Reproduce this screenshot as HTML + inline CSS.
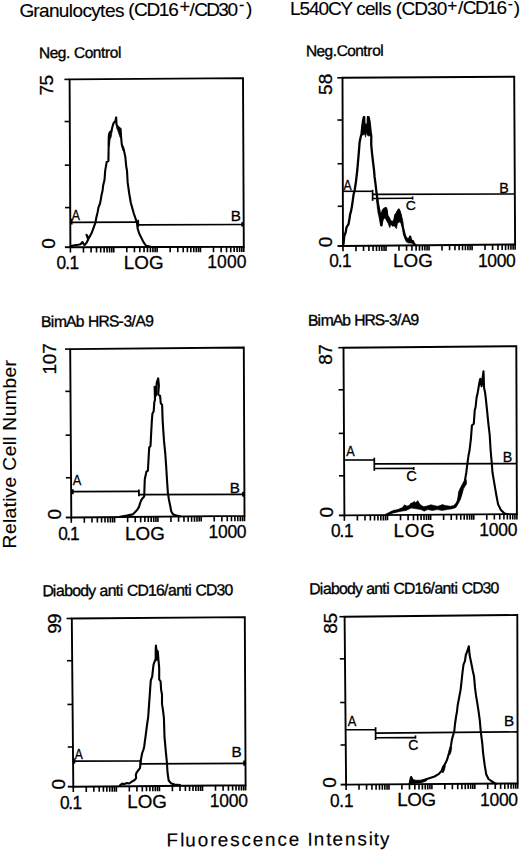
<!DOCTYPE html>
<html><head><meta charset="utf-8"><style>
html,body{margin:0;padding:0;background:#fff;}
svg{display:block;}
text{font-family:"Liberation Sans", sans-serif;fill:#000;stroke:#000;stroke-width:0.15px;}
</style></head><body>
<svg width="520" height="853" viewBox="0 0 520 853">
<rect width="520" height="853" fill="#fff"/>
<text ><tspan x="19.44 33.21 39.11 48.95 58.8 68.64 72.58 82.42 91.27 100.12 105.04 114.89" y="17.1" font-size="19">Granulocytes</tspan></text>
<text ><tspan x="128.22 133.95 146.38 158.8 168.37" y="16.32" font-size="19">(CD16</tspan></text>
<text x="179.52" y="12.77" font-size="18.11">+</text>
<text ><tspan x="189.6 194.22 206.22 218.23 227.48" y="15.88" font-size="19">/CD30</tspan></text>
<text x="238.89" y="9.64" font-size="15.97">-</text>
<text ><tspan x="246.09" y="15.47" font-size="19">)</tspan></text>
<text ><tspan x="289.94 299.44 308.93 318.42 327.92 340.24 351.63 356.37 364.91 374.4 378.19 381.99" y="15.4" font-size="19">L540CY cells</tspan></text>
<text ><tspan x="395.72 401.57 414.24 426.91 436.68" y="14.64" font-size="19">(CD30</tspan></text>
<text x="447.26" y="11.15" font-size="17.29">+</text>
<text ><tspan x="458.1 462.78 474.94 487.1 496.47" y="14.2" font-size="19">/CD16</tspan></text>
<text x="507.81" y="8.93" font-size="15.56">-</text>
<text ><tspan x="513.69" y="13.8" font-size="19">)</tspan></text>
<g transform="rotate(-0.4 40.4 58.2)"><text style="stroke-width:0.35px"><tspan x="39.13 49.69 57.83 65.96 70.03 74.09 84.65 92.79 100.92 104.99 109.86 117.99" y="58.2" font-size="15.5">Neg. Control</tspan></text></g>
<g transform="rotate(-0.4 307.3 56.3)"><text style="stroke-width:0.35px"><tspan x="306.03 316.52 324.59 332.67 336.7 347.19 355.27 363.35 367.38 372.22 380.29" y="56.3" font-size="15.5">Neg.Control</tspan></text></g>
<g transform="rotate(-0.4 42.3 327)"><text style="stroke-width:0.35px"><tspan x="41.01 50.72 53.95 66.07 75.77 83.87 87.91 98.42 108.92 118.63 123.47 131.56 135.61 145.31" y="327" font-size="15.7">BimAb HRS-3/A9</tspan></text></g>
<g transform="rotate(-0.4 309.4 325.7)"><text style="stroke-width:0.35px"><tspan x="308.11 317.64 320.81 332.71 342.24 350.19 354.15 364.47 374.79 384.31 389.07 397.02 400.98 410.51" y="325.7" font-size="15.7">BimAb HRS-3/A9</tspan></text></g>
<g transform="rotate(-0.3 43.7 596.2)"><text style="stroke-width:0.35px"><tspan x="42.4 52.87 56.1 64.16 72.22 80.28 88.35 95.6 99.62 107.69 115.75 119.78 123 127.03 137.5 147.97 156.03 164.1 168.12 176.19 184.25 188.28 191.5 195.53 206 216.47 224.53" y="596.2" font-size="15.8">Diabody anti CD16/anti CD30</tspan></text></g>
<g transform="rotate(-0.3 310.6 594.2)"><text style="stroke-width:0.35px"><tspan x="309.3 319.73 322.93 330.96 338.99 347.02 355.05 362.26 366.27 374.3 382.33 386.34 389.55 393.56 403.98 414.4 422.43 430.46 434.47 442.5 450.53 454.54 457.74 461.75 472.18 482.6 490.63" y="594.2" font-size="15.8">Diabody anti CD16/anti CD30</tspan></text></g>
<text transform="translate(15.7 546.9) rotate(-90)" ><tspan x="-1.57 12.85 23.96 28.4 39.51 45.06 49.5 59.49 70.6 76.15 90.58 101.69 106.13 110.57 116.12 130.55 141.66 158.3 169.41 180.52" y="0" font-size="19.2">Relative Cell Number</tspan></text>
<g transform="rotate(-0.35 168.1 846.5)"><text ><tspan x="166.55 180.27 185.26 197.74 210.23 217.71 230.2 241.43 252.65 265.14 277.63 288.86 301.35 307.59 313.83 326.32 332.55 345.04 357.53 368.76 373.75 379.99" y="846.5" font-size="18.9">Fluorescence Intensity</tspan></text></g>
<polygon points="69.6,79.4 243,78.1 243.8,246.8 70.4,247.2" fill="none" stroke="#000" stroke-width="1.9" stroke-linejoin="miter"/>
<line x1="64.9" y1="247.2" x2="70.4" y2="247.2" stroke="#000" stroke-width="1.9"/>
<line x1="64.4" y1="79.4" x2="69.6" y2="79.4" stroke="#000" stroke-width="1.6"/>
<line x1="64.6" y1="121.52" x2="69.8" y2="121.52" stroke="#000" stroke-width="1.6"/>
<line x1="64.81" y1="165.15" x2="70.01" y2="165.15" stroke="#000" stroke-width="1.6"/>
<line x1="65.01" y1="207.6" x2="70.21" y2="207.6" stroke="#000" stroke-width="1.6"/>
<path d="M70.4 247.2v5.3M83.45 247.17v5.3M91.08 247.15v5.3M96.5 247.14v5.3M100.7 247.13v5.3M104.13 247.12v5.3M107.04 247.12v5.3M109.55 247.11v5.3M111.77 247.1v5.3M113.75 247.1v5.3M126.8 247.07v5.3M134.43 247.05v5.3M139.85 247.04v5.3M144.05 247.03v5.3M147.48 247.02v5.3M150.39 247.02v5.3M152.9 247.01v5.3M155.12 247v5.3M157.1 247v5.3M170.15 246.97v5.3M177.78 246.95v5.3M183.2 246.94v5.3M187.4 246.93v5.3M190.83 246.92v5.3M193.74 246.92v5.3M196.25 246.91v5.3M198.47 246.9v5.3M200.45 246.9v5.3M213.5 246.87v5.3M221.13 246.85v5.3M226.55 246.84v5.3M230.75 246.83v5.3M234.18 246.82v5.3M237.09 246.82v5.3M239.6 246.81v5.3M241.82 246.8v5.3M243.8 246.8v5.3" stroke="#000" stroke-width="1.6" fill="none"/>
<text transform="translate(53.1 94.6) rotate(-90)" style="stroke-width:0.3px"><tspan x="-0.97 9.03" y="0" font-size="19">75</tspan></text>
<text transform="translate(54.8 248.1) rotate(-90)" style="stroke-width:0.3px"><tspan x="-0.74" y="0" font-size="19">0</tspan></text>
<text transform="scale(0.92 1)" style="stroke-width:0.3px"><tspan x="61.33 70.83 75.57" y="268.9" font-size="18.8">0.1</tspan></text>
<text style="stroke-width:0.3px"><tspan x="123.66 134.17 148.88" y="268.9" font-size="18.8">LOG</tspan></text>
<text transform="scale(0.93 1)" style="stroke-width:0.3px"><tspan x="222.87 233.44 244.01 254.58" y="268.4" font-size="18.8">1000</tspan></text>
<polygon points="342.5,77.8 514.2,76.7 515.1,244.5 343,246" fill="none" stroke="#000" stroke-width="1.9" stroke-linejoin="miter"/>
<line x1="337.5" y1="246" x2="343" y2="246" stroke="#000" stroke-width="1.9"/>
<line x1="337.3" y1="77.8" x2="342.5" y2="77.8" stroke="#000" stroke-width="1.6"/>
<line x1="337.43" y1="120.02" x2="342.63" y2="120.02" stroke="#000" stroke-width="1.6"/>
<line x1="337.56" y1="163.75" x2="342.76" y2="163.75" stroke="#000" stroke-width="1.6"/>
<line x1="337.68" y1="206.3" x2="342.88" y2="206.3" stroke="#000" stroke-width="1.6"/>
<path d="M343 246v5.3M355.95 245.89v5.3M363.53 245.82v5.3M368.9 245.77v5.3M373.07 245.74v5.3M376.48 245.71v5.3M379.36 245.68v5.3M381.86 245.66v5.3M384.06 245.64v5.3M386.02 245.62v5.3M398.98 245.51v5.3M406.55 245.45v5.3M411.93 245.4v5.3M416.1 245.36v5.3M419.5 245.33v5.3M422.39 245.31v5.3M424.88 245.29v5.3M427.08 245.27v5.3M429.05 245.25v5.3M442 245.14v5.3M449.58 245.07v5.3M454.95 245.02v5.3M459.12 244.99v5.3M462.53 244.96v5.3M465.41 244.93v5.3M467.91 244.91v5.3M470.11 244.89v5.3M472.08 244.88v5.3M485.03 244.76v5.3M492.6 244.7v5.3M497.98 244.65v5.3M502.15 244.61v5.3M505.55 244.58v5.3M508.44 244.56v5.3M510.93 244.54v5.3M513.13 244.52v5.3M515.1 244.5v5.3" stroke="#000" stroke-width="1.6" fill="none"/>
<text transform="translate(331.5 94.2) rotate(-90)" style="stroke-width:0.3px"><tspan x="-0.76 9.86" y="0" font-size="19">58</tspan></text>
<text transform="translate(332.3 246.6) rotate(-90)" style="stroke-width:0.3px"><tspan x="-0.74" y="0" font-size="19">0</tspan></text>
<text transform="scale(0.92 1)" style="stroke-width:0.3px"><tspan x="357.96 367.17 371.77" y="267.2" font-size="18.8">0.1</tspan></text>
<text style="stroke-width:0.3px"><tspan x="393.06 403.57 418.28" y="267.2" font-size="18.8">LOG</tspan></text>
<text transform="scale(0.93 1)" style="stroke-width:0.3px"><tspan x="513.94 524.01 534.08 544.15" y="266.6" font-size="18.8">1000</tspan></text>
<polygon points="70.2,349.1 243.8,347.5 244.5,515.9 71.3,517.5" fill="none" stroke="#000" stroke-width="1.9" stroke-linejoin="miter"/>
<line x1="65.8" y1="517.5" x2="71.3" y2="517.5" stroke="#000" stroke-width="1.9"/>
<line x1="65" y1="349.1" x2="70.2" y2="349.1" stroke="#000" stroke-width="1.6"/>
<line x1="65.28" y1="391.37" x2="70.48" y2="391.37" stroke="#000" stroke-width="1.6"/>
<line x1="65.56" y1="435.15" x2="70.76" y2="435.15" stroke="#000" stroke-width="1.6"/>
<line x1="65.84" y1="477.76" x2="71.04" y2="477.76" stroke="#000" stroke-width="1.6"/>
<path d="M71.3 517.5v5.3M84.33 517.38v5.3M91.96 517.31v5.3M97.37 517.26v5.3M101.57 517.22v5.3M104.99 517.19v5.3M107.89 517.16v5.3M110.4 517.14v5.3M112.62 517.12v5.3M114.6 517.1v5.3M127.63 516.98v5.3M135.26 516.91v5.3M140.67 516.86v5.3M144.87 516.82v5.3M148.29 516.79v5.3M151.19 516.76v5.3M153.7 516.74v5.3M155.92 516.72v5.3M157.9 516.7v5.3M170.93 516.58v5.3M178.56 516.51v5.3M183.97 516.46v5.3M188.17 516.42v5.3M191.59 516.39v5.3M194.49 516.36v5.3M197 516.34v5.3M199.22 516.32v5.3M201.2 516.3v5.3M214.23 516.18v5.3M221.86 516.11v5.3M227.27 516.06v5.3M231.47 516.02v5.3M234.89 515.99v5.3M237.79 515.96v5.3M240.3 515.94v5.3M242.52 515.92v5.3M244.5 515.9v5.3" stroke="#000" stroke-width="1.6" fill="none"/>
<text transform="translate(56 373.1) rotate(-90)" style="stroke-width:0.3px"><tspan x="-1.45 8.92 19.29" y="0" font-size="19">107</tspan></text>
<text transform="translate(60.6 518.7) rotate(-90)" style="stroke-width:0.3px"><tspan x="-0.74" y="0" font-size="19">0</tspan></text>
<text transform="scale(0.92 1)" style="stroke-width:0.3px"><tspan x="63.29 71.91 76.22" y="539.9" font-size="18.8">0.1</tspan></text>
<text style="stroke-width:0.3px"><tspan x="124.96 135.52 150.28" y="539.5" font-size="18.8">LOG</tspan></text>
<text transform="scale(0.93 1)" style="stroke-width:0.3px"><tspan x="224.27 234.41 244.55 254.69" y="537.8" font-size="18.8">1000</tspan></text>
<polygon points="343.5,347.7 516.3,346.2 516.9,514.1 344.4,515.4" fill="none" stroke="#000" stroke-width="1.9" stroke-linejoin="miter"/>
<line x1="338.9" y1="515.4" x2="344.4" y2="515.4" stroke="#000" stroke-width="1.9"/>
<line x1="338.3" y1="347.7" x2="343.5" y2="347.7" stroke="#000" stroke-width="1.6"/>
<line x1="338.53" y1="389.79" x2="343.73" y2="389.79" stroke="#000" stroke-width="1.6"/>
<line x1="338.76" y1="433.39" x2="343.96" y2="433.39" stroke="#000" stroke-width="1.6"/>
<line x1="338.99" y1="475.82" x2="344.19" y2="475.82" stroke="#000" stroke-width="1.6"/>
<path d="M344.4 515.4v5.3M357.38 515.3v5.3M364.98 515.24v5.3M370.36 515.2v5.3M374.54 515.17v5.3M377.96 515.15v5.3M380.84 515.13v5.3M383.35 515.11v5.3M385.55 515.09v5.3M387.52 515.07v5.3M400.51 514.98v5.3M408.1 514.92v5.3M413.49 514.88v5.3M417.67 514.85v5.3M421.08 514.82v5.3M423.97 514.8v5.3M426.47 514.78v5.3M428.68 514.76v5.3M430.65 514.75v5.3M443.63 514.65v5.3M451.23 514.59v5.3M456.61 514.55v5.3M460.79 514.52v5.3M464.21 514.5v5.3M467.09 514.48v5.3M469.6 514.46v5.3M471.8 514.44v5.3M473.77 514.43v5.3M486.76 514.33v5.3M494.35 514.27v5.3M499.74 514.23v5.3M503.92 514.2v5.3M507.33 514.17v5.3M510.22 514.15v5.3M512.72 514.13v5.3M514.93 514.11v5.3M516.9 514.1v5.3" stroke="#000" stroke-width="1.6" fill="none"/>
<text transform="translate(331.9 364) rotate(-90)" style="stroke-width:0.3px"><tspan x="-0.83 9.39" y="0" font-size="19">87</tspan></text>
<text transform="translate(333.1 516.7) rotate(-90)" style="stroke-width:0.3px"><tspan x="-0.74" y="0" font-size="19">0</tspan></text>
<text transform="scale(0.92 1)" style="stroke-width:0.3px"><tspan x="359.7 369.12 373.83" y="537.4" font-size="18.8">0.1</tspan></text>
<text style="stroke-width:0.3px"><tspan x="393.46 404.64 420.28" y="537" font-size="18.8">LOG</tspan></text>
<text transform="scale(0.93 1)" style="stroke-width:0.3px"><tspan x="515.23 525.48 535.73 545.98" y="536.5" font-size="18.8">1000</tspan></text>
<polygon points="71.8,618.5 244.8,617.1 245.6,785.2 73.3,786.7" fill="none" stroke="#000" stroke-width="1.9" stroke-linejoin="miter"/>
<line x1="67.8" y1="786.7" x2="73.3" y2="786.7" stroke="#000" stroke-width="1.9"/>
<line x1="66.6" y1="618.5" x2="71.8" y2="618.5" stroke="#000" stroke-width="1.6"/>
<line x1="66.98" y1="660.72" x2="72.18" y2="660.72" stroke="#000" stroke-width="1.6"/>
<line x1="67.37" y1="704.45" x2="72.57" y2="704.45" stroke="#000" stroke-width="1.6"/>
<line x1="67.75" y1="747" x2="72.95" y2="747" stroke="#000" stroke-width="1.6"/>
<path d="M73.3 786.7v5.3M86.27 786.59v5.3M93.85 786.52v5.3M99.23 786.47v5.3M103.41 786.44v5.3M106.82 786.41v5.3M109.7 786.38v5.3M112.2 786.36v5.3M114.4 786.34v5.3M116.38 786.33v5.3M129.34 786.21v5.3M136.93 786.15v5.3M142.31 786.1v5.3M146.48 786.06v5.3M149.89 786.03v5.3M152.78 786.01v5.3M155.28 785.99v5.3M157.48 785.97v5.3M159.45 785.95v5.3M172.42 785.84v5.3M180 785.77v5.3M185.38 785.72v5.3M189.56 785.69v5.3M192.97 785.66v5.3M195.85 785.63v5.3M198.35 785.61v5.3M200.55 785.59v5.3M202.52 785.58v5.3M215.49 785.46v5.3M223.08 785.4v5.3M228.46 785.35v5.3M232.63 785.31v5.3M236.04 785.28v5.3M238.93 785.26v5.3M241.43 785.24v5.3M243.63 785.22v5.3M245.6 785.2v5.3" stroke="#000" stroke-width="1.6" fill="none"/>
<text transform="translate(61.2 632.9) rotate(-90)" style="stroke-width:0.3px"><tspan x="-0.89 8.83" y="0" font-size="19">99</tspan></text>
<text transform="translate(64.6 788.7) rotate(-90)" style="stroke-width:0.3px"><tspan x="-0.74" y="0" font-size="19">0</tspan></text>
<text transform="scale(0.92 1)" style="stroke-width:0.3px"><tspan x="65.14 74.2 78.72" y="808.6" font-size="18.8">0.1</tspan></text>
<text style="stroke-width:0.3px"><tspan x="127.26 137.65 152.18" y="808" font-size="18.8">LOG</tspan></text>
<text transform="scale(0.93 1)" style="stroke-width:0.3px"><tspan x="225.45 235.7 245.95 256.19" y="807" font-size="18.8">1000</tspan></text>
<polygon points="344.6,616.7 517.3,615 517.7,783.5 346.1,784.6" fill="none" stroke="#000" stroke-width="1.9" stroke-linejoin="miter"/>
<line x1="340.6" y1="784.6" x2="346.1" y2="784.6" stroke="#000" stroke-width="1.9"/>
<line x1="339.4" y1="616.7" x2="344.6" y2="616.7" stroke="#000" stroke-width="1.6"/>
<line x1="339.78" y1="658.84" x2="344.98" y2="658.84" stroke="#000" stroke-width="1.6"/>
<line x1="340.17" y1="702.5" x2="345.37" y2="702.5" stroke="#000" stroke-width="1.6"/>
<line x1="340.55" y1="744.98" x2="345.75" y2="744.98" stroke="#000" stroke-width="1.6"/>
<path d="M346.1 784.6v5.3M359.01 784.52v5.3M366.57 784.47v5.3M371.93 784.43v5.3M376.09 784.41v5.3M379.48 784.39v5.3M382.35 784.37v5.3M384.84 784.35v5.3M387.04 784.34v5.3M389 784.33v5.3M401.91 784.24v5.3M409.47 784.19v5.3M414.83 784.16v5.3M418.99 784.13v5.3M422.38 784.11v5.3M425.25 784.09v5.3M427.74 784.08v5.3M429.94 784.06v5.3M431.9 784.05v5.3M444.81 783.97v5.3M452.37 783.92v5.3M457.73 783.88v5.3M461.89 783.86v5.3M465.28 783.84v5.3M468.15 783.82v5.3M470.64 783.8v5.3M472.84 783.79v5.3M474.8 783.77v5.3M487.71 783.69v5.3M495.27 783.64v5.3M500.63 783.61v5.3M504.79 783.58v5.3M508.18 783.56v5.3M511.05 783.54v5.3M513.54 783.53v5.3M515.74 783.51v5.3M517.7 783.5v5.3" stroke="#000" stroke-width="1.6" fill="none"/>
<text transform="translate(337.1 632.9) rotate(-90)" style="stroke-width:0.3px"><tspan x="-0.83 9.33" y="0" font-size="19">85</tspan></text>
<text transform="translate(336 786.9) rotate(-90)" style="stroke-width:0.3px"><tspan x="-0.74" y="0" font-size="19">0</tspan></text>
<text transform="scale(0.92 1)" style="stroke-width:0.3px"><tspan x="358.83 368.83 373.83" y="806.6" font-size="18.8">0.1</tspan></text>
<text style="stroke-width:0.3px"><tspan x="397.26 407.32 421.38" y="806" font-size="18.8">LOG</tspan></text>
<text transform="scale(0.93 1)" style="stroke-width:0.3px"><tspan x="516.2 526.34 536.48 546.62" y="805.6" font-size="18.8">1000</tspan></text>
<path d="M70.5 246.3 L73.3 245.5 L78.3 244.7 L80.5 244.2 L82.5 242 L83.7 244.3 L84.8 245 L86.8 242.3 L88.2 239.5 L86.5 234.8 L88.6 238.6 L91.4 233.5 L92.9 229.7 L94.8 224.3 L95.6 222 L96.2 218.1 L97.7 211.9 L98.5 207.3 L100 203.5 L100.8 199.6 L101.5 195 L102.6 190.4 L103.1 185.8 L104.2 181.2 L104.5 180 L105.2 170.6 L106.7 161.9 L108.4 161.1 L108.7 144.6 L108.8 136 L109.7 132.5 L111.4 131.6 L112.3 127.3 L113.6 123 L115.3 121.2 L116.2 117.4 L116.5 124.7 L118.4 127.3 L120.5 129 L121 136 L121.8 144.6 L123.6 148.9 L125.3 156.7 L126.2 166.2 L127 170.6 L127.5 180 L127.7 182.7 L129.2 193.5 L130.8 202.7 L132.3 208.1 L133.8 213.5 L135.4 218.1 L136.9 222.7 L137.7 228.8 L139.2 233.5 L141.5 238.1 L143.8 242.7 L146.2 245.8 L150 246.5" fill="none" stroke="#000" stroke-width="2.1" stroke-linejoin="round" stroke-linecap="round"/>
<polygon points="108.2,145 108.6,134 110,131 112,130.5 111.5,136 110,140 109.5,146" fill="#000" stroke="#000" stroke-width="0.6" stroke-linejoin="round"/>
<polygon points="116.6,125 118.5,126.5 120.8,128.5 121.3,137 120,137.5 118.6,133 117.5,130 116.6,128" fill="#000" stroke="#000" stroke-width="0.6" stroke-linejoin="round"/>
<polygon points="121.5,144 122.5,145 123.8,149.5 123,151 121.8,147" fill="#000" stroke="#000" stroke-width="0.6" stroke-linejoin="round"/>
<line x1="70" y1="222.3" x2="137.8" y2="222.1" stroke="#000" stroke-width="1.7"/>
<line x1="138.2" y1="219.8" x2="138.2" y2="227" stroke="#000" stroke-width="1.8"/>
<line x1="138.2" y1="224.9" x2="243.5" y2="224.5" stroke="#000" stroke-width="1.7"/>
<line x1="71.3" y1="218.8" x2="71.3" y2="224.6" stroke="#000" stroke-width="2.6"/>
<line x1="242.5" y1="222.2" x2="242.5" y2="226.6" stroke="#000" stroke-width="2.4"/>
<text transform="translate(71.78 220) scale(0.86 1)" font-size="14.24" style="stroke-width:0.3px">A</text>
<text transform="translate(230.85 220.5) scale(1.04 1)" font-size="14.68" style="stroke-width:0.3px">B</text>
<path d="M343.5 244.2 L344.2 236.5 L345.8 231.9 L346.5 227.3 L348.5 224.2 L349.6 218.1 L350 215 L351.2 210.4 L351.9 206.5 L352.7 201.2 L353.5 195 L354.7 190 L355.9 182.1 L357.3 170 L357.9 163.1 L359 150.4 L359.6 142.3 L360.8 136.5 L361.5 134 L362.2 127 L363 121 L363.8 117.2 L364.8 117.2 L365.2 123.6 L366.8 123.6 L367.3 117.2 L368.6 117.2 L369.4 121 L370.1 127 L370.8 133.6 L371.3 136 L371.2 144.6 L372.1 153.8 L372.9 160.8 L374 170 L374.6 176.9 L375.5 183.8 L376.3 190.8 L377.2 197.7 L378.1 204.6 L379.5 211.5 L380.7 220.2 L381.5 225.4 L382.4 218.5 L383.3 213.3 L384.1 209.8 L385 213.3 L385.9 208.1 L386.7 211.5 L387.6 220.2 L389.3 221.9 L391.1 221.9 L392.8 225.4 L394.5 220.2 L395.4 215 L397.1 213.3 L398.8 209.8 L400.6 215 L401.4 221.9 L403.2 228.8 L404.9 235.8 L406.6 239.2 L409.2 241 L410.1 236.6 L411 241 L412.7 241 L414.4 244.4 L416.2 245.3" fill="none" stroke="#000" stroke-width="2.3" stroke-linejoin="round" stroke-linecap="round"/>
<polygon points="361.6,134.5 362.2,127 363,121 363.6,116.8 365,116.8 365.2,124.2 367,124.2 367.2,116.8 369,116.8 369.6,121 370.3,127 370.9,134 369.2,136.3 367.3,135.2 366.2,132.5 365.6,137.3 364.6,133.8 363.1,135.3" fill="#000" stroke="#000" stroke-width="0.6" stroke-linejoin="round"/>
<polygon points="377.2,199.8 378.2,207.5 379.6,212.3 380.6,214.2 382.5,209.4 384.4,207.5 385.4,209.4 386.8,208.5 387.8,215.2 389.2,217.1 391.2,221 393.6,221 395,216.2 396.9,211.3 398.8,208.9 399.8,210.4 400.8,214.2 402.2,218.1 403.2,222.9 403.2,233.5 404.6,235.4 406.5,238.3 408.5,238.3 410.4,236.3 411.3,239.2 413.3,241.2 415.2,244.5 414.2,244.5 411.3,243.1 408.5,243.1 406.5,242.1 405.1,239.2 403.7,235.4 402.7,226.7 401.7,222.9 399.3,221.9 397.4,223.8 396.4,228.7 395,226.7 393.1,224.8 391.2,223.8 389.7,227.7 388.3,223.8 386.3,220 384.9,218.1 383.5,219 382,222.9 380.6,225.8 379.6,220 377.7,211.3 376.5,200" fill="#000" stroke="#000" stroke-width="0.6" stroke-linejoin="round"/>
<polygon points="365.3,116 365.5,123.6 366.6,123.6 366.9,116" fill="#fff"/>
<line x1="343" y1="191.3" x2="372.6" y2="191.3" stroke="#000" stroke-width="1.6"/>
<line x1="372.6" y1="189.8" x2="372.6" y2="200.8" stroke="#000" stroke-width="1.7"/>
<line x1="372.6" y1="194.3" x2="515" y2="194" stroke="#000" stroke-width="1.7"/>
<line x1="372.6" y1="198.5" x2="412.6" y2="198.3" stroke="#000" stroke-width="1.6"/>
<line x1="412.6" y1="196.5" x2="412.6" y2="199.6" stroke="#000" stroke-width="1.6"/>
<text transform="translate(343.38 189.8) scale(0.88 1)" font-size="13.95" style="stroke-width:0.3px">A</text>
<text transform="translate(499.23 192.9) scale(1.01 1)" font-size="14.1" style="stroke-width:0.3px">B</text>
<text transform="translate(405.79 209.67) scale(1.04 1)" font-size="13.56" style="stroke-width:0.3px">C</text>
<path d="M120 516.7 L126.9 515.6 L132.7 514.4 L134.4 512.7 L137.3 509.8 L139 506.9 L140.2 502.9 L141.3 500 L143.1 497.7 L144.2 496.5 L144.5 487.3 L144.8 479.2 L146 473.5 L146.3 471.9 L147.9 470.6 L149.2 447.4 L150.5 446.1 L151.1 434.5 L151.8 421.6 L152.4 413.8 L153.7 411.3 L154.3 402.2 L155 399.7 L154.6 386.8 L155.9 395.8 L156.7 382.9 L158.2 378.4 L158.9 385.5 L158.2 394.5 L160.1 395.8 L160.8 403.5 L162.1 404.8 L162.7 421.6 L164 440.9 L165.3 453.8 L166.2 466.7 L167 480 L167.9 493.1 L169 500 L170.2 505.8 L171.3 511.5 L173.1 514.4 L176.5 515.6 L180 516.2" fill="none" stroke="#000" stroke-width="2.1" stroke-linejoin="round" stroke-linecap="round"/>
<line x1="71" y1="491.6" x2="138.7" y2="491.3" stroke="#000" stroke-width="1.7"/>
<line x1="138.9" y1="489.4" x2="138.9" y2="496.3" stroke="#000" stroke-width="1.8"/>
<line x1="138.9" y1="494.6" x2="244.5" y2="494.3" stroke="#000" stroke-width="1.7"/>
<line x1="72.4" y1="489.2" x2="72.4" y2="494.2" stroke="#000" stroke-width="2.6"/>
<line x1="243.3" y1="491.8" x2="243.3" y2="496.6" stroke="#000" stroke-width="2.4"/>
<text transform="translate(72.77 484.6) scale(0.88 1)" font-size="14.54" style="stroke-width:0.3px">A</text>
<text transform="translate(229.75 492.5) scale(1.06 1)" font-size="14.39" style="stroke-width:0.3px">B</text>
<path d="M387.5 514.5 L391.3 512.5 L397.5 510.8 L402.5 508.8 L405 506.3 L408.8 507.5 L411.3 503.8 L415 505.5 L417.5 502 L420 505.5 L423.8 508 L430 506.3 L433.8 507.5 L437.5 508 L442.5 505.5 L445 507.5 L450 508 L455 507 L457.5 502.5 L459.7 495 L461.6 489.4 L464.4 483.8 L466.3 472.5 L467.2 465 L468.5 455.6 L469.6 450 L470.9 438.8 L471.9 425.6 L473.8 423.8 L474.7 410.6 L475.6 406.9 L476.6 397.5 L477.5 393.8 L479.4 382.5 L480.3 378.8 L481.6 386.3 L483.5 371.3 L484.1 388.1 L485 391.9 L485.9 399.4 L486.9 408.8 L488.4 423.8 L489.7 435 L490.6 450 L491.6 461.3 L492.5 472.5 L494.4 483.8 L496.3 495 L498.1 504.4 L500.9 510 L503.8 512.8 L505.6 513.8 L508 514.2" fill="none" stroke="#000" stroke-width="2.1" stroke-linejoin="round" stroke-linecap="round"/>
<polygon points="385,514.5 388.3,512.9 393.2,510.4 398.1,509.6 403,507.2 404.6,504.7 406.2,506.3 409.5,505.5 412,503.1 414.4,501.4 416.1,503.1 417.7,500.6 419.3,504.7 422.6,507.2 425.9,506.3 429.1,505.5 430.8,504.7 434,505.5 437.3,506.3 440.6,505.5 442.2,504.7 445.5,505.5 450.4,506.3 453.6,505.5 456.1,503.1 457.7,499.8 458.6,494.9 460.2,491.6 461.8,490 463.1,490 461.8,494.9 460.2,499.8 458.6,503.1 456.1,507.2 452,508.8 447.1,509.6 442.2,510.4 437.3,509.6 432.4,510.4 427.5,509.6 424.2,511.2 421,509.6 416.1,508.8 411.2,508 406.2,510.4 401.3,511.2 393.2,512.9 385,515.3" fill="#000" stroke="#000" stroke-width="0.6" stroke-linejoin="round"/>
<polygon points="457.8,500 458.5,492 460.5,487.5 463.5,482 465.8,479 466.5,480.5 466.5,484 464.5,487 462.5,491 461,496 460,500" fill="#000" stroke="#000" stroke-width="0.6" stroke-linejoin="round"/>
<line x1="344" y1="460" x2="374.3" y2="460" stroke="#000" stroke-width="1.6"/>
<line x1="374.3" y1="457.7" x2="374.3" y2="470.8" stroke="#000" stroke-width="1.7"/>
<line x1="374.3" y1="463.9" x2="516.7" y2="463.6" stroke="#000" stroke-width="1.7"/>
<line x1="374.3" y1="468.5" x2="413.8" y2="468.4" stroke="#000" stroke-width="1.6"/>
<line x1="413.8" y1="466.9" x2="413.8" y2="470" stroke="#000" stroke-width="1.6"/>
<text transform="translate(346.18 455.6) scale(0.89 1)" font-size="14.24" style="stroke-width:0.3px">A</text>
<text transform="translate(502.83 462.3) scale(0.98 1)" font-size="14.54" style="stroke-width:0.3px">B</text>
<text transform="translate(406.15 480.66) scale(1.04 1)" font-size="14.12" style="stroke-width:0.3px">C</text>
<path d="M120 785.4 L122.3 783.5 L123.8 784.2 L126.9 783.1 L129.2 783.5 L131.5 781.9 L134.6 780 L136.2 778.1 L135.8 775 L136.5 772.7 L137.7 771.2 L138.8 769.6 L140 768.1 L140.4 763.5 L140.8 760.4 L141.5 756.5 L142.3 752.7 L143.5 749.6 L144.2 746.5 L145.5 736.8 L146.9 725.9 L148.2 716.8 L149.1 704.1 L150.3 686.9 L150.8 680.3 L152.2 676.6 L153.1 668.1 L153.6 664.4 L155 660.6 L155.9 658.8 L155.8 651.3 L155.9 645.6 L156.4 650.3 L157.8 651.3 L158.3 657.8 L158.8 663.5 L159.2 668.1 L159.2 679.4 L160.6 681.3 L161.1 689.7 L162 694.4 L162 703.8 L163 710.4 L163.9 717.9 L164.5 736.8 L165.8 751.4 L166.9 762.3 L167.6 773.2 L168.7 780.5 L170.9 783.2 L174.5 784.5 L180 785" fill="none" stroke="#000" stroke-width="2.1" stroke-linejoin="round" stroke-linecap="round"/>
<polygon points="155.1,660 155.3,648 155.9,645.2 157.2,650.5 158.2,657 157.3,661" fill="#000" stroke="#000" stroke-width="0.6" stroke-linejoin="round"/>
<line x1="73" y1="761.2" x2="140.4" y2="761" stroke="#000" stroke-width="1.7"/>
<line x1="140.6" y1="759.6" x2="140.6" y2="765.2" stroke="#000" stroke-width="1.8"/>
<line x1="140.6" y1="763.8" x2="245.5" y2="763.4" stroke="#000" stroke-width="1.7"/>
<line x1="74" y1="758.6" x2="74" y2="763.6" stroke="#000" stroke-width="2.6"/>
<line x1="244.4" y1="760.5" x2="244.4" y2="765.7" stroke="#000" stroke-width="2.4"/>
<text transform="translate(74.78 758.5) scale(0.86 1)" font-size="14.1" style="stroke-width:0.3px">A</text>
<text transform="translate(231.45 757.3) scale(1.04 1)" font-size="14.68" style="stroke-width:0.3px">B</text>
<path d="M409.6 783.8 L411.2 777.1 L412.5 780 L415.4 781.9 L419.2 781.9 L423.1 781 L426.9 779 L430.8 777.7 L434.6 776.5 L438.5 774.2 L441.3 771.3 L443.3 766.5 L445.2 763.7 L447.1 759.8 L449 753.1 L451 745.4 L451.9 739.6 L454.3 731 L455 724 L456 717 L457 711.5 L457.7 705 L459.2 697.3 L460.6 689.6 L461.5 681.9 L462.5 672.3 L463.5 664.6 L465 660.8 L465.8 655 L467.3 651.2 L468.8 646.3 L469.6 655 L471.2 662.7 L472.7 670.4 L474 676.2 L475 687.7 L476 695.4 L477.3 703.1 L478.5 710.8 L479.8 720.4 L480.8 731.9 L482.3 743.5 L483.1 753.1 L484.6 764.6 L486.2 774.2 L488.5 779 L491.3 781 L494.2 782.9 L496.2 783.8" fill="none" stroke="#000" stroke-width="2.1" stroke-linejoin="round" stroke-linecap="round"/>
<polygon points="409.6,783.8 410.3,777 411.5,777 412.5,779.6 416,780.2 420,780.2 424,779.3 426.5,778.5 426.5,781 422,782.5 416,783.2 410,784.2" fill="#000" stroke="#000" stroke-width="0.6" stroke-linejoin="round"/>
<polygon points="441.8,771.8 443.5,765.5 445.5,765.5 444.5,770 443,773" fill="#000" stroke="#000" stroke-width="0.6" stroke-linejoin="round"/>
<polygon points="449,752 450.5,747 451.8,747 451,752 449.8,755" fill="#000" stroke="#000" stroke-width="0.6" stroke-linejoin="round"/>
<line x1="345.2" y1="729.8" x2="375.6" y2="729.7" stroke="#000" stroke-width="1.6"/>
<line x1="375.6" y1="727.2" x2="375.6" y2="740" stroke="#000" stroke-width="1.7"/>
<line x1="375.6" y1="733.2" x2="517.5" y2="731.9" stroke="#000" stroke-width="1.7"/>
<line x1="375.6" y1="737.8" x2="415.5" y2="737.6" stroke="#000" stroke-width="1.6"/>
<line x1="415.5" y1="735.4" x2="415.5" y2="738.6" stroke="#000" stroke-width="1.6"/>
<text transform="translate(347.77 726.2) scale(0.92 1)" font-size="13.95" style="stroke-width:0.3px">A</text>
<text transform="translate(504.05 725.9) scale(1.03 1)" font-size="14.83" style="stroke-width:0.3px">B</text>
<text transform="translate(408.29 749.65) scale(0.94 1)" font-size="14.97" style="stroke-width:0.3px">C</text>
</svg>
</body></html>
